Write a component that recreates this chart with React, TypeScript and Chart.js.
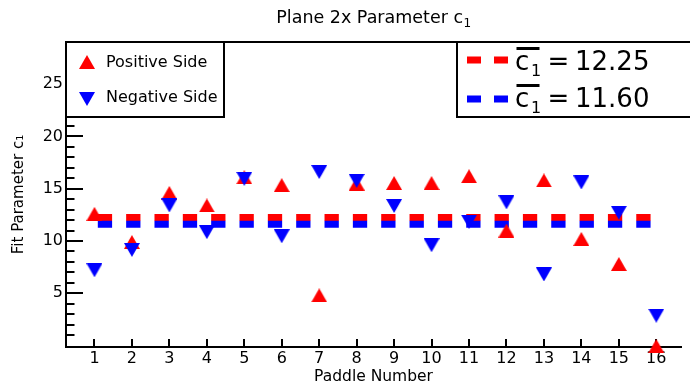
import React, { useEffect, useRef } from "react";
import { Chart, registerables } from "chart.js";

Chart.register(...registerables);

// ---- data ----
const paddleNumbers = [1, 2, 3, 4, 5, 6, 7, 8, 9, 10, 11, 12, 13, 14, 15, 16];
const positiveSide = [12.6, 9.9, 14.6, 13.4, 16.1, 15.35, 4.8, 15.5, 15.55, 15.55, 16.2, 11.0, 15.8, 10.2, 7.8, -0.05];
const negativeSide = [7.2, 9.15, 13.4, 10.85, 15.95, 10.45, 16.6, 15.75, 13.35, 9.6, 11.85, 13.7, 6.8, 15.6, 12.7, 2.85];
const positiveMean = 12.25;
const negativeMean = 11.6;
const positiveMeanLabel = "12.25";
const negativeMeanLabel = "11.60";
const yTickValues = [5, 10, 15, 20, 25];
const xMin = 0.24;
const xMax = 16.66;
const yMin = -0.14;
const yMax = 29.04;

const titleMain = "Plane 2x Parameter c";
const titleSub = "1";
const xTitle = "Paddle Number";
const yTitle = "Fit Parameter c\u2081";
const legendPositive = "Positive Side";
const legendNegative = "Negative Side";

const FONT = "'DejaVu Sans', sans-serif";
const RED = "#ff0000";
const BLUE = "#0000ff";

function makeTriangle(color: string, down: boolean) {
  const c = document.createElement("canvas");
  c.width = 16;
  c.height = 14;
  const ctx = c.getContext("2d")!;
  ctx.fillStyle = color;
  ctx.beginPath();
  if (!down) {
    ctx.moveTo(8, 0);
    ctx.lineTo(16, 14);
    ctx.lineTo(0, 14);
  } else {
    ctx.moveTo(0, 0);
    ctx.lineTo(16, 0);
    ctx.lineTo(8, 14);
  }
  ctx.closePath();
  ctx.fill();
  return c;
}

export default function App() {
  const ref = useRef<HTMLCanvasElement | null>(null);

  useEffect(() => {
    const canvas = ref.current;
    if (!canvas) return;
    const upTri = makeTriangle(RED, false);
    const downTri = makeTriangle(BLUE, true);

    const decor = {
      id: "decor",
      beforeDatasetsDraw(chart: any) {
        const { ctx, chartArea } = chart;
        const { left, right, top, bottom } = chartArea;
        const xs = chart.scales.x;
        const ys = chart.scales.y;
        ctx.save();
        ctx.strokeStyle = "#000";
        ctx.lineWidth = 2;
        // top frame line
        ctx.beginPath();
        ctx.moveTo(left, top);
        ctx.lineTo(right + 2, top);
        ctx.stroke();
        // y ticks (major/minor, inside)
        for (let v = Math.ceil(yMin); v <= Math.floor(yMax); v++) {
          if (v <= 0) continue;
          const py = Math.round(ys.getPixelForValue(v));
          const len = yTickValues.includes(v) ? 17 : 8.5;
          ctx.beginPath();
          ctx.moveTo(left, py);
          ctx.lineTo(left + len, py);
          ctx.stroke();
        }
        // x ticks
        for (const p of paddleNumbers) {
          const px = Math.round(xs.getPixelForValue(p));
          ctx.beginPath();
          ctx.moveTo(px, bottom);
          ctx.lineTo(px, bottom - 8);
          ctx.stroke();
        }
        ctx.restore();
      },
      afterDraw(chart: any) {
        const { ctx, chartArea } = chart;
        ctx.save();
        // Title
        ctx.fillStyle = "#000";
        ctx.textBaseline = "alphabetic";
        ctx.textAlign = "left";
        ctx.font = `17.5px ${FONT}`;
        const wMain = ctx.measureText(titleMain).width;
        ctx.font = `12px ${FONT}`;
        const wSub = ctx.measureText(titleSub).width;
        const cx = (chartArea.left + chartArea.right) / 2;
        const tx = cx - (wMain + wSub) / 2;
        ctx.font = `17.5px ${FONT}`;
        ctx.fillText(titleMain, tx, 23);
        ctx.font = `12px ${FONT}`;
        ctx.fillText(titleSub, tx + wMain + 0.5, 27);

        // Left legend box
        ctx.fillStyle = "#fff";
        ctx.fillRect(66, 42, 158, 75);
        ctx.strokeStyle = "#000";
        ctx.lineWidth = 2;
        ctx.strokeRect(66, 42, 158, 75);
        ctx.drawImage(upTri, 87 - 8, 62 - 7);
        ctx.drawImage(downTri, 87 - 8, 99 - 7);
        ctx.fillStyle = "#000";
        ctx.font = `16px ${FONT}`;
        ctx.fillText(legendPositive, 106, 67);
        ctx.fillText(legendNegative, 106, 102);

        // Right legend box
        ctx.fillStyle = "#fff";
        ctx.fillRect(457, 42, 240, 75);
        ctx.strokeStyle = "#000";
        ctx.lineWidth = 2;
        ctx.strokeRect(457, 42, 240, 75);

        const rows = [
          { color: RED, lineY: 60, base: 69.5, label: positiveMeanLabel },
          { color: BLUE, lineY: 99, base: 106.5, label: negativeMeanLabel },
        ];
        for (const r of rows) {
          ctx.strokeStyle = r.color;
          ctx.lineWidth = 7;
          ctx.lineCap = "butt";
          ctx.setLineDash([14, 13]);
          ctx.beginPath();
          ctx.moveTo(467, r.lineY);
          ctx.lineTo(509, r.lineY);
          ctx.stroke();
          ctx.setLineDash([]);
          ctx.fillStyle = "#000";
          ctx.font = `26px ${FONT}`;
          ctx.fillText("c", 515, r.base);
          ctx.fillRect(516.5, r.base - 22.5, 23, 3);
          ctx.font = `16px ${FONT}`;
          ctx.fillText("1", 531, r.base + 6);
          ctx.font = `26px ${FONT}`;
          ctx.fillText("=", 547.5, r.base);
          ctx.fillText(r.label, 575, r.base);
        }
        ctx.restore();
      },
    };

    const chart = new Chart(canvas, {
      type: "scatter",
      data: {
        datasets: [
          {
            label: legendNegative,
            data: paddleNumbers.map((p, i) => ({ x: p, y: negativeSide[i] })),
            pointStyle: downTri as any,
            pointRadius: 8,
            backgroundColor: BLUE,
            borderColor: BLUE,
            clip: false as any,
            order: 0,
          },
          {
            label: legendPositive,
            data: paddleNumbers.map((p, i) => ({ x: p, y: positiveSide[i] })),
            pointStyle: upTri as any,
            pointRadius: 8,
            backgroundColor: RED,
            borderColor: RED,
            clip: false as any,
            order: 1,
          },
          {
            label: "neg mean",
            type: "line" as any,
            data: [
              { x: paddleNumbers[0], y: negativeMean },
              { x: paddleNumbers[paddleNumbers.length - 1], y: negativeMean },
            ],
            borderColor: BLUE,
            borderWidth: 7,
            borderDash: [14.3, 14.04],
            borderDashOffset: 25,
            borderCapStyle: "butt",
            pointRadius: 0,
            showLine: true,
            fill: false,
            order: 2,
          } as any,
          {
            label: "pos mean",
            type: "line" as any,
            data: [
              { x: paddleNumbers[0], y: positiveMean },
              { x: paddleNumbers[paddleNumbers.length - 1], y: positiveMean },
            ],
            borderColor: RED,
            borderWidth: 7,
            borderDash: [14.3, 14.04],
            borderDashOffset: 25,
            borderCapStyle: "butt",
            pointRadius: 0,
            showLine: true,
            fill: false,
            order: 3,
          } as any,
        ],
      },
      options: {
        animation: false,
        responsive: false,
        devicePixelRatio: 1,
        layout: { padding: { top: 42, left: 0, right: 0, bottom: 0 } },
        plugins: {
          legend: { display: false },
          tooltip: { enabled: false },
          title: { display: false },
        },
        scales: {
          x: {
            type: "linear",
            min: xMin,
            max: xMax,
            afterBuildTicks: (scale: any) => {
              scale.ticks = paddleNumbers.map((v) => ({ value: v }));
            },
            afterFit: (scale: any) => {
              scale.height = 40;
            },
            grid: { display: false, drawTicks: false },
            border: { display: true, color: "#000", width: 2 },
            ticks: {
              autoSkip: false,
              maxRotation: 0,
              padding: 2,
              color: "#000",
              font: { family: FONT, size: 16 },
              callback: (v: any) => String(v),
            },
            title: {
              display: true,
              text: xTitle,
              color: "#000",
              font: { family: FONT, size: 15.5 },
              padding: { top: 0, bottom: 1 },
            },
          },
          y: {
            type: "linear",
            min: yMin,
            max: yMax,
            afterBuildTicks: (scale: any) => {
              scale.ticks = yTickValues.map((v) => ({ value: v }));
            },
            afterFit: (scale: any) => {
              scale.width = 66;
            },
            grid: { display: false, drawTicks: false },
            border: { display: true, color: "#000", width: 2 },
            ticks: {
              padding: 3,
              color: "#000",
              font: { family: FONT, size: 16 },
              callback: (v: any) => String(v),
            },
            title: {
              display: true,
              text: yTitle,
              color: "#000",
              font: { family: FONT, size: 15 },
              padding: { top: 10, bottom: 0 },
            },
          },
        },
      },
      plugins: [decor],
    });

    return () => chart.destroy();
  }, []);

  return (
    <div style={{ position: "absolute", left: 0, top: 0, width: 690, height: 387, background: "#fff" }}>
      <canvas ref={ref} width={690} height={387} style={{ display: "block" }} />
    </div>
  );
}
